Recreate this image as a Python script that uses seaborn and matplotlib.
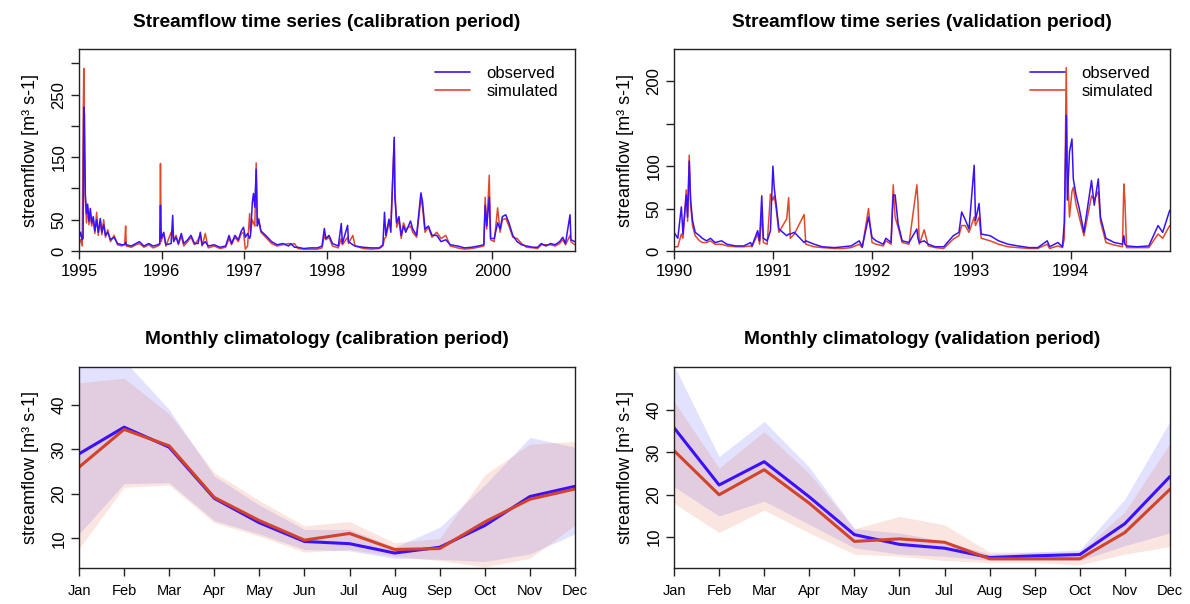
import pandas as pd
import matplotlib.pyplot as plt
import matplotlib.lines as mlines
import seaborn as sns

# ---- data ----
# calibration period daily streamflow (sampled points)
cal_dates = ["1995-01-01", "1995-01-08", "1995-01-15", "1995-01-19", "1995-01-22", "1995-01-25", "1995-01-29",
             "1995-02-03", "1995-02-08", "1995-02-14", "1995-02-20", "1995-02-26", "1995-03-05", "1995-03-12",
             "1995-03-20", "1995-03-27", "1995-04-05", "1995-04-12", "1995-04-20", "1995-04-28", "1995-05-08",
             "1995-05-20", "1995-06-05", "1995-06-20", "1995-07-10", "1995-07-22", "1995-07-26", "1995-07-29",
             "1995-08-20", "1995-09-10", "1995-09-25", "1995-10-15", "1995-11-05", "1995-11-25", "1995-12-15",
             "1995-12-24", "1995-12-27", "1995-12-30", "1996-01-10", "1996-01-20", "1996-02-12", "1996-02-19",
             "1996-02-23", "1996-03-05", "1996-03-15", "1996-03-28", "1996-04-08", "1996-04-25", "1996-05-10",
             "1996-05-25", "1996-06-10", "1996-06-20", "1996-06-28", "1996-07-12", "1996-07-25", "1996-08-20",
             "1996-09-15", "1996-10-10", "1996-10-25", "1996-11-05", "1996-11-20", "1996-12-05", "1996-12-18",
             "1996-12-28", "1997-01-05", "1997-01-15", "1997-01-24", "1997-01-28", "1997-02-05", "1997-02-10",
             "1997-02-16", "1997-02-22", "1997-02-27", "1997-03-05", "1997-03-15", "1997-04-05", "1997-05-01",
             "1997-05-25", "1997-06-20", "1997-07-15", "1997-07-25", "1997-08-10", "1997-08-25", "1997-09-20",
             "1997-10-20", "1997-11-20", "1997-12-10", "1997-12-20", "1997-12-27", "1998-01-10", "1998-01-25",
             "1998-02-20", "1998-03-05", "1998-03-10", "1998-04-02", "1998-04-06", "1998-04-25", "1998-05-05",
             "1998-06-10", "1998-07-15", "1998-08-20", "1998-09-05", "1998-09-12", "1998-09-18", "1998-10-02",
             "1998-10-10", "1998-10-25", "1998-10-28", "1998-11-05", "1998-11-15", "1998-11-25", "1998-12-05",
             "1998-12-15", "1999-01-05", "1999-01-15", "1999-02-01", "1999-02-20", "1999-02-27", "1999-03-10",
             "1999-03-25", "1999-04-10", "1999-05-01", "1999-05-20", "1999-06-10", "1999-06-30", "1999-08-01",
             "1999-09-01", "1999-10-01", "1999-11-01", "1999-11-25", "1999-12-01", "1999-12-08", "1999-12-19",
             "1999-12-25", "2000-01-10", "2000-01-25", "2000-02-05", "2000-02-15", "2000-03-01", "2000-03-15",
             "2000-04-01", "2000-04-20", "2000-05-10", "2000-06-01", "2000-07-01", "2000-07-20", "2000-08-05",
             "2000-08-25", "2000-09-15", "2000-10-05", "2000-10-25", "2000-11-08", "2000-11-20", "2000-12-10",
             "2000-12-14", "2000-12-31"]
cal_obs = [20, 30, 18, 20, 230, 218, 90, 60, 75, 48, 68, 45, 55, 32, 50, 30, 52, 30, 42, 25, 30, 18, 22, 12,
           10, 10, 14, 10, 8, 12, 15, 8, 12, 8, 10, 12, 73, 20, 30, 10, 12, 57, 15, 22, 12, 28, 12, 18, 25, 12,
           12, 30, 10, 15, 8, 10, 6, 8, 25, 12, 25, 18, 32, 38, 22, 28, 20, 25, 78, 92, 70, 131, 40, 50, 32, 25,
           15, 10, 12, 8, 12, 6, 6, 4, 5, 5, 8, 36, 20, 25, 12, 8, 44, 12, 41, 15, 10, 8, 6, 5, 5, 10, 62, 25,
           51, 30, 182, 85, 45, 55, 25, 40, 30, 48, 35, 25, 93, 79, 35, 40, 25, 25, 15, 18, 10, 8, 5, 6, 8, 10,
           73, 40, 86, 20, 20, 45, 35, 55, 58, 45, 25, 15, 10, 8, 6, 6, 12, 8, 12, 10, 15, 22, 12, 58, 18, 15]
cal_sim = [12, 18, 8, 190, 292, 150, 80, 45, 70, 42, 60, 40, 50, 28, 62, 25, 48, 26, 50, 22, 34, 15, 25, 10,
           8, 12, 40, 8, 6, 10, 12, 6, 10, 5, 8, 10, 140, 15, 28, 8, 30, 25, 18, 25, 10, 24, 8, 15, 22, 10,
           18, 26, 8, 28, 5, 8, 4, 6, 20, 10, 22, 15, 28, 30, 3, 8, 60, 30, 50, 45, 40, 141, 45, 52, 30, 22,
           12, 8, 10, 12, 10, 12, 4, 3, 3, 3, 5, 25, 18, 22, 8, 5, 20, 10, 22, 12, 25, 8, 4, 3, 4, 8, 20, 22,
           45, 40, 177, 100, 38, 50, 20, 45, 35, 40, 30, 22, 85, 70, 30, 38, 22, 30, 20, 25, 8, 5, 3, 4, 6, 8,
           86, 35, 121, 18, 15, 69, 30, 50, 52, 40, 22, 20, 12, 6, 5, 4, 10, 10, 10, 8, 12, 18, 10, 25, 15, 10]

# validation period
val_dates = ["1990-01-01", "1990-01-15", "1990-01-28", "1990-02-03", "1990-02-15", "1990-02-20", "1990-02-26",
             "1990-03-03", "1990-03-10", "1990-03-20", "1990-04-05", "1990-04-15", "1990-05-01", "1990-05-15",
             "1990-06-01", "1990-06-25", "1990-07-15", "1990-08-15", "1990-09-15", "1990-10-10", "1990-10-15",
             "1990-11-05", "1990-11-12", "1990-11-20", "1990-11-26", "1990-12-10", "1990-12-22", "1990-12-31",
             "1991-01-05", "1991-01-12", "1991-01-22", "1991-02-20", "1991-02-27", "1991-03-05", "1991-03-20",
             "1991-04-25", "1991-05-01", "1991-06-01", "1991-07-01", "1991-08-15", "1991-09-15", "1991-10-15",
             "1991-11-14", "1991-11-25", "1991-12-18", "1991-12-31", "1992-01-15", "1992-02-10", "1992-02-20",
             "1992-03-10", "1992-03-18", "1992-03-25", "1992-04-05", "1992-04-20", "1992-05-15", "1992-06-13",
             "1992-06-17", "1992-06-22", "1992-07-10", "1992-07-25", "1992-08-20", "1992-09-20", "1992-10-25",
             "1992-11-15", "1992-11-25", "1992-12-08", "1992-12-22", "1993-01-10", "1993-01-15", "1993-01-28",
             "1993-02-05", "1993-03-10", "1993-04-10", "1993-05-15", "1993-06-20", "1993-08-01", "1993-09-01",
             "1993-10-06", "1993-10-15", "1993-11-14", "1993-12-01", "1993-12-08", "1993-12-15", "1993-12-19",
             "1993-12-27", "1994-01-05", "1994-01-10", "1994-01-20", "1994-02-01", "1994-02-18", "1994-03-18",
             "1994-03-28", "1994-04-12", "1994-04-20", "1994-05-10", "1994-06-10", "1994-07-10", "1994-07-15",
             "1994-07-19", "1994-07-25", "1994-09-01", "1994-10-15", "1994-11-18", "1994-12-05", "1994-12-31"]
val_obs = [22, 15, 52, 20, 66, 40, 106, 61, 36, 22, 18, 15, 12, 15, 10, 12, 8, 6, 6, 10, 6, 24, 12, 65, 15,
           12, 24, 100, 74, 55, 26, 18, 20, 20, 22, 10, 12, 8, 5, 4, 5, 6, 12, 5, 40, 16, 12, 8, 15, 10, 66,
           66, 32, 12, 10, 26, 15, 10, 12, 8, 5, 5, 18, 22, 46, 37, 26, 101, 36, 56, 20, 18, 12, 8, 6, 4, 4,
           12, 5, 10, 5, 34, 160, 60, 117, 132, 85, 66, 50, 22, 83, 54, 85, 40, 15, 10, 8, 18, 8, 6, 5, 6, 30,
           22, 48]
val_sim = [5, 5, 20, 15, 72, 35, 113, 55, 30, 18, 12, 10, 10, 12, 8, 8, 6, 5, 5, 6, 5, 20, 8, 45, 10, 8, 67,
           60, 65, 50, 22, 38, 63, 15, 20, 43, 8, 5, 4, 3, 3, 4, 8, 4, 50, 10, 8, 6, 12, 8, 78, 40, 28, 10, 8,
           78, 58, 8, 25, 6, 4, 3, 14, 18, 30, 30, 22, 40, 30, 40, 15, 12, 8, 5, 4, 3, 3, 8, 3, 6, 4, 15, 216,
           100, 40, 70, 75, 55, 40, 18, 65, 60, 70, 35, 10, 7, 5, 79, 60, 4, 4, 4, 20, 15, 30]

# monthly climatology
months = ["Jan", "Feb", "Mar", "Apr", "May", "Jun", "Jul", "Aug", "Sep", "Oct", "Nov", "Dec"]
cal_clim_obs = [29.0, 35.0, 30.5, 19.0, 13.5, 9.3, 8.8, 6.7, 8.0, 12.9, 19.4, 21.7]
cal_clim_sim = [26.0, 34.5, 30.8, 19.2, 14.0, 9.6, 11.1, 7.5, 7.7, 13.7, 18.8, 21.1]
cal_obs_lo = [11.0, 22.3, 22.5, 14.0, 11.0, 7.5, 7.2, 5.5, 5.3, 4.8, 6.5, 11.0]
cal_obs_hi = [50.0, 50.0, 39.0, 24.0, 17.5, 12.0, 12.0, 8.0, 12.5, 22.0, 32.7, 30.5]
cal_sim_lo = [7.7, 21.5, 22.0, 13.5, 10.5, 6.9, 7.5, 6.0, 5.0, 3.6, 5.5, 13.0]
cal_sim_hi = [45.0, 46.0, 38.0, 24.8, 18.5, 12.8, 13.8, 9.0, 10.0, 24.3, 31.2, 31.8]

val_clim_obs = [35.8, 22.3, 27.8, 19.5, 10.6, 8.3, 7.4, 5.2, 5.6, 5.9, 13.2, 24.3]
val_clim_sim = [30.4, 20.0, 25.9, 18.0, 9.0, 9.6, 8.8, 4.9, 4.9, 4.9, 11.1, 21.3]
val_obs_lo = [21.9, 15.0, 18.5, 13.0, 7.5, 6.0, 5.5, 4.5, 4.5, 4.5, 8.0, 11.0]
val_obs_hi = [50.5, 29.0, 37.3, 26.5, 12.0, 11.0, 9.0, 6.0, 6.5, 7.0, 19.0, 37.3]
val_sim_lo = [18.0, 11.1, 16.4, 11.0, 6.0, 5.5, 4.5, 4.0, 4.0, 3.5, 6.0, 7.8]
val_sim_hi = [42.0, 26.3, 34.9, 25.0, 12.0, 14.9, 12.9, 6.5, 6.5, 6.5, 16.0, 32.2]

OBS_COL = "#3a10ff"
SIM_COL = "#df4a2a"

sns.set_theme(style="ticks")
plt.rcParams["font.family"] = ["Liberation Sans", "DejaVu Sans"]
plt.rcParams["xtick.direction"] = "out"
plt.rcParams["ytick.direction"] = "out"
plt.rcParams["text.color"] = "black"
plt.rcParams["axes.labelcolor"] = "black"
plt.rcParams["xtick.labelcolor"] = "black"
plt.rcParams["ytick.labelcolor"] = "black"

fig = plt.figure(figsize=(11.9, 6.04), dpi=100)
ax_tl = fig.add_axes([0.0664, 0.5844, 0.4168, 0.3345])
ax_tr = fig.add_axes([0.5664, 0.5844, 0.4168, 0.3345])
ax_bl = fig.add_axes([0.0664, 0.0601, 0.4168, 0.3328])
ax_br = fig.add_axes([0.5664, 0.0601, 0.4168, 0.3328])

ylab = "streamflow [m³ s-1]"


def style_axes(ax):
    for s in ax.spines.values():
        s.set_visible(True)
        s.set_color("#222222")
        s.set_linewidth(1.0)
    ax.tick_params(length=6, width=1, color="#222222", labelsize=12, pad=3)
    ax.set_ylabel(ylab, fontsize=13, labelpad=9)
    ax.set_xlabel("")
    for lab in ax.get_yticklabels():
        lab.set_rotation(90)
        lab.set_va("center")


def plot_ts(ax, dates, obs, sim, start, end, ymax, yticks, ylabels, title):
    df = pd.DataFrame({"date": pd.to_datetime(dates), "observed": obs, "simulated": sim})
    sns.lineplot(data=df, x="date", y="simulated", color=SIM_COL, lw=1.1, ax=ax)
    sns.lineplot(data=df, x="date", y="observed", color=OBS_COL, lw=1.1, ax=ax)
    ax.set_xlim(pd.Timestamp(start), pd.Timestamp(end))
    ax.set_ylim(0, ymax)
    years = pd.date_range(start, end, freq="YS")[:-1]
    ax.set_xticks(years)
    ax.set_xticklabels([str(y.year) for y in years])
    ax.set_yticks(yticks)
    ax.set_yticklabels(ylabels)
    style_axes(ax)
    ax.set_title(title, fontsize=13.8, fontweight="bold", pad=16)
    h = [mlines.Line2D([], [], color=OBS_COL, lw=1.2), mlines.Line2D([], [], color=SIM_COL, lw=1.2)]
    ax.legend(h, ["observed", "simulated"], loc="upper right", frameon=False, fontsize=12,
              handlelength=2.1, handletextpad=1.0, labelspacing=0.2, borderaxespad=0.6)


def plot_clim(ax, obs, sim, olo, ohi, slo, shi, ylim, title):
    x = list(range(1, 13))
    ax.fill_between(x, olo, ohi, color="#3333ff", alpha=0.14, lw=0)
    ax.fill_between(x, slo, shi, color="#e3482a", alpha=0.14, lw=0)
    df = pd.DataFrame({"month": x, "observed": obs, "simulated": sim})
    sns.lineplot(data=df, x="month", y="observed", color=OBS_COL, lw=2.2, ax=ax)
    sns.lineplot(data=df, x="month", y="simulated", color="#d2432a", lw=2.2, ax=ax)
    ax.set_xlim(1, 12)
    ax.set_ylim(*ylim)
    ax.set_xticks(x)
    ax.set_xticklabels(months)
    ax.set_yticks([10, 20, 30, 40])
    style_axes(ax)
    ax.tick_params(axis="x", labelsize=10.5, pad=6)
    ax.set_title(title, fontsize=13.8, fontweight="bold", pad=16)


plot_ts(ax_tl, cal_dates, cal_obs, cal_sim, "1995-01-01", "2001-01-01", 323,
        [0, 50, 100, 150, 200, 250, 300], ["0", "50", "", "150", "", "250", ""],
        "Streamflow time series (calibration period)")
plot_ts(ax_tr, val_dates, val_obs, val_sim, "1990-01-01", "1995-01-01", 238,
        [0, 50, 100, 150, 200], ["0", "50", "100", "", "200"],
        "Streamflow time series (validation period)")
plot_clim(ax_bl, cal_clim_obs, cal_clim_sim, cal_obs_lo, cal_obs_hi, cal_sim_lo, cal_sim_hi,
          (3.4, 48.6), "Monthly climatology (calibration period)")
plot_clim(ax_br, val_clim_obs, val_clim_sim, val_obs_lo, val_obs_hi, val_sim_lo, val_sim_hi,
          (2.8, 50.2), "Monthly climatology (validation period)")

fig.savefig("out.png", dpi=100)
